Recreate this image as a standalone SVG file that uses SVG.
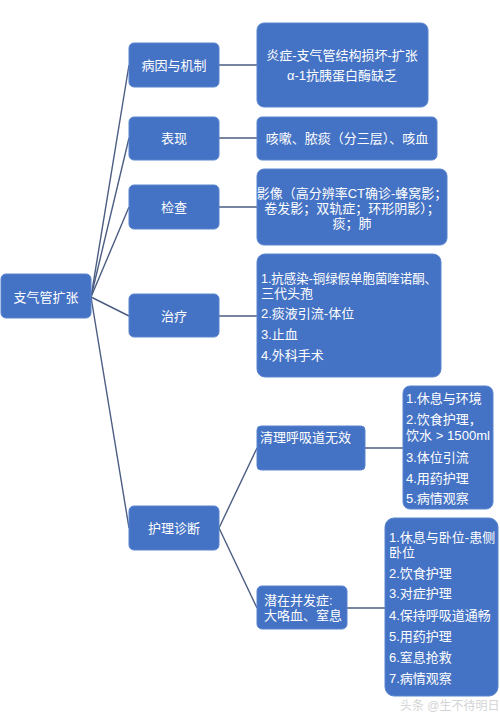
<svg xmlns="http://www.w3.org/2000/svg" width="500" height="720" viewBox="0 0 500 720">
<style>
.box{fill:#4472C4;stroke:#5a84cf;stroke-width:1}
.t{font-family:"Liberation Sans","Noto Sans CJK SC",sans-serif;font-size:13px;fill:#ffffff}
.c{text-anchor:middle}
.ln{stroke:#4b5d82;stroke-width:1.4;fill:none}
.wm{font-family:"Liberation Sans","Noto Sans CJK SC",sans-serif;font-size:12px;fill:#d4d4d4}
</style>
<rect width="500" height="720" fill="#ffffff"/>
<g id="connectors">
<line class="ln" x1="91" y1="297" x2="129" y2="65"/>
<line class="ln" x1="91" y1="297" x2="129" y2="138"/>
<line class="ln" x1="91" y1="297" x2="129" y2="207"/>
<line class="ln" x1="91" y1="297" x2="129" y2="316"/>
<line class="ln" x1="91" y1="297" x2="129" y2="528"/>
<line class="ln" x1="219" y1="65" x2="257" y2="65"/>
<line class="ln" x1="219" y1="138" x2="257" y2="138"/>
<line class="ln" x1="219" y1="207" x2="257" y2="207"/>
<line class="ln" x1="219" y1="316" x2="257" y2="316"/>
<line class="ln" x1="219" y1="528" x2="257" y2="448"/>
<line class="ln" x1="219" y1="528" x2="257" y2="608"/>
<line class="ln" x1="365" y1="448" x2="403" y2="448"/>
<line class="ln" x1="347" y1="608" x2="385" y2="608"/>
</g>
<g id="root">
<rect class="box" x="1" y="274" width="90" height="44" rx="5"/>
<text class="t c" x="46" y="302">支气管扩张</text>
</g>
<g id="cause">
<rect class="box" x="129" y="43" width="90" height="44" rx="5"/>
<text class="t c" x="174" y="70">病因与机制</text>
</g>
<g id="symptom">
<rect class="box" x="129" y="117" width="90" height="43" rx="5"/>
<text class="t c" x="174" y="143">表现</text>
</g>
<g id="exam">
<rect class="box" x="129" y="185" width="90" height="44" rx="5"/>
<text class="t c" x="174" y="212">检查</text>
</g>
<g id="treat">
<rect class="box" x="129" y="294" width="90" height="43" rx="5"/>
<text class="t c" x="174" y="321">治疗</text>
</g>
<g id="nursing">
<rect class="box" x="129" y="506" width="90" height="44" rx="5"/>
<text class="t c" x="174" y="533">护理诊断</text>
</g>
<g id="cause-detail">
<rect class="box" x="257" y="23" width="171" height="84" rx="7"/>
<text class="t c" x="342" y="60">炎症-支气管结构损坏-扩张</text>
<text class="t c" x="342" y="80">α-1抗胰蛋白酶缺乏</text>
</g>
<g id="symptom-detail">
<rect class="box" x="257" y="117" width="180" height="43" rx="5"/>
<text class="t c" x="347" y="143">咳嗽、脓痰（分三层）、咳血</text>
</g>
<g id="exam-detail">
<rect class="box" x="257" y="169" width="190" height="76" rx="7"/>
<text class="t c" x="352" y="198">影像（高分辨率CT确诊-蜂窝影；</text>
<text class="t c" x="352" y="213">卷发影；双轨症；环形阴影）；</text>
<text class="t c" x="352" y="228">痰；肺</text>
</g>
<g id="treat-detail">
<rect class="box" x="257" y="254" width="184" height="123" rx="8"/>
<text class="t" x="261" y="283" textLength="176" lengthAdjust="spacingAndGlyphs">1.抗感染-铜绿假单胞菌喹诺酮、</text>
<text class="t" x="261" y="298">三代头孢</text>
<text class="t" x="261" y="318">2.痰液引流-体位</text>
<text class="t" x="261" y="339">3.止血</text>
<text class="t" x="261" y="360">4.外科手术</text>
</g>
<g id="airway">
<rect class="box" x="257" y="426" width="108" height="44" rx="4"/>
<text class="t" x="260" y="442">清理呼吸道无效</text>
</g>
<g id="airway-care">
<rect class="box" x="403" y="386" width="90" height="123" rx="7"/>
<text class="t" x="406" y="403">1.休息与环境</text>
<text class="t" x="406" y="424">2.饮食护理，</text>
<text class="t" x="406" y="440" textLength="84" lengthAdjust="spacingAndGlyphs">饮水 &gt; 1500ml</text>
<text class="t" x="406" y="462">3.体位引流</text>
<text class="t" x="406" y="483">4.用药护理</text>
<text class="t" x="406" y="503">5.病情观察</text>
</g>
<g id="complication">
<rect class="box" x="257" y="586" width="90" height="43" rx="5"/>
<text class="t" x="264" y="605">潜在并发症:</text>
<text class="t" x="264" y="620">大咯血、窒息</text>
</g>
<g id="complication-care">
<rect class="box" x="385" y="518" width="113" height="178" rx="9"/>
<text class="t" x="389" y="542">1.休息与卧位-患侧</text>
<text class="t" x="389" y="557">卧位</text>
<text class="t" x="389" y="578">2.饮食护理</text>
<text class="t" x="389" y="598">3.对症护理</text>
<text class="t" x="389" y="620">4.保持呼吸道通畅</text>
<text class="t" x="389" y="641">5.用药护理</text>
<text class="t" x="389" y="662">6.窒息抢救</text>
<text class="t" x="389" y="683">7.病情观察</text>
</g>
<text class="wm" x="400" y="710">头条 @生不待明日</text>
</svg>
